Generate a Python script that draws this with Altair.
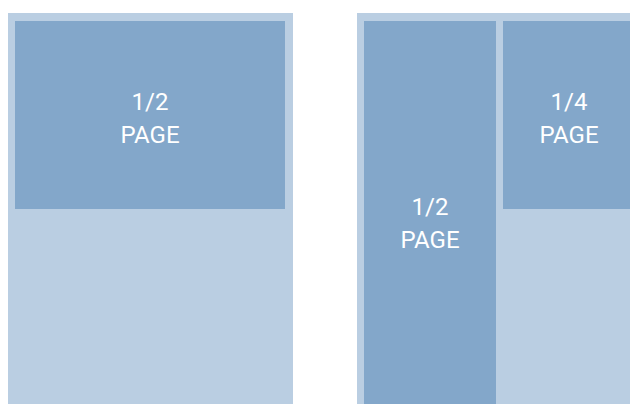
import altair as alt
import pandas as pd

# Page diagram boxes (layout units = reference pixels)
box_kind = ["page", "page", "block", "block", "block"]
box_x0 = [7, 357, 15, 364, 503]
box_x1 = [293, 638, 285, 496, 635]
box_y0 = [13, 13, 21, 21, 21]
box_y1 = [412, 412, 209, 412, 209]

label_text = ["1/2\nPAGE", "1/2\nPAGE", "1/4\nPAGE"]
label_x = [150, 430, 569]
label_y = [110, 215, 110]

boxes = pd.DataFrame({"kind": box_kind, "x0": box_x0, "x1": box_x1,
                      "y0": box_y0, "y1": box_y1})
labels = pd.DataFrame({"text": label_text, "x": label_x, "y": label_y})

xs = alt.Scale(domain=[8, 630], nice=False, zero=False)
ys = alt.Scale(domain=[8, 404], nice=False, zero=False, reverse=True)

rects = alt.Chart(boxes).mark_rect(clip=True).encode(
    x=alt.X("x0:Q", scale=xs, axis=None),
    x2="x1:Q",
    y=alt.Y("y0:Q", scale=ys, axis=None),
    y2="y1:Q",
    color=alt.Color("kind:N", scale=alt.Scale(domain=["page", "block"],
                                              range=["#bacee2", "#83a7ca"]),
                    legend=None),
)

text = alt.Chart(labels).mark_text(
    font="Roboto", fontSize=24, fontWeight=400, color="white",
    align="center", baseline="alphabetic", lineBreak="\n", lineHeight=33,
).encode(
    x=alt.X("x:Q", scale=xs, axis=None),
    y=alt.Y("y:Q", scale=ys, axis=None),
    text="text:N",
)

chart = alt.layer(rects, text).properties(
    width=622, height=396, padding=0,
    autosize=alt.AutoSizeParams(type="none"),
).configure_view(stroke=None)

chart.save("out.html", embed_options={"renderer": "svg", "actions": False})
